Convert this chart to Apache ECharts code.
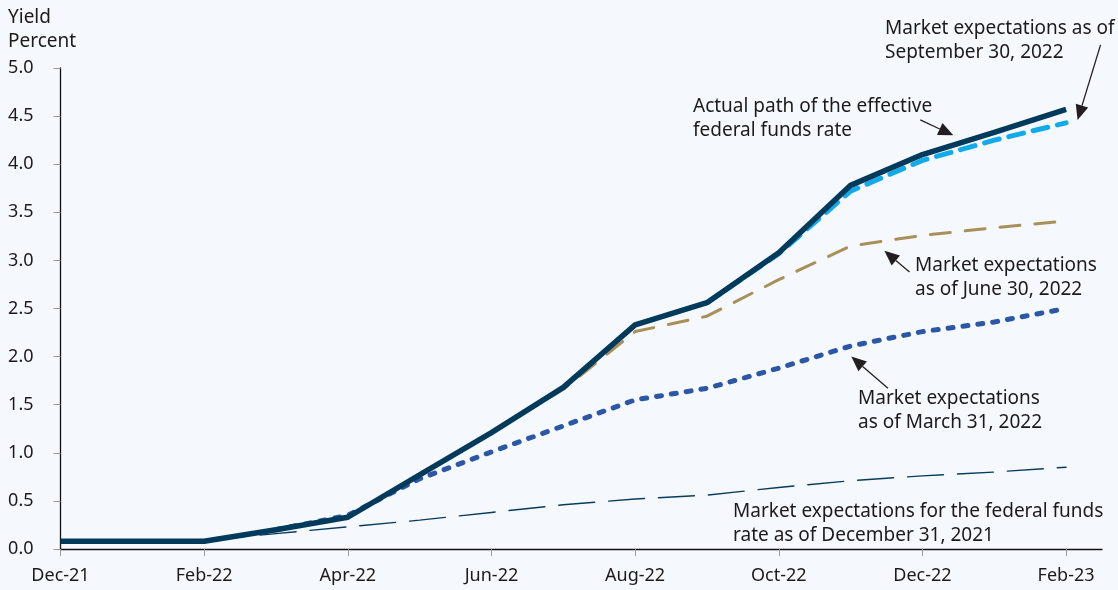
<!DOCTYPE html>
<html>
<head>
<meta charset="utf-8">
<script src="https://cdn.jsdelivr.net/npm/echarts@6/dist/echarts.min.js"></script>
<style>
html, body { margin: 0; padding: 0; background: #f5f9fd; }
#draw { width: 1118px; height: 590px; }
</style>
</head>
<body>
<div id="draw"></div>
<script>
// months on the x axis, Dec-21 .. Feb-23
var months = ['Dec-21', 'Jan-22', 'Feb-22', 'Mar-22', 'Apr-22', 'May-22', 'Jun-22', 'Jul-22',
	'Aug-22', 'Sep-22', 'Oct-22', 'Nov-22', 'Dec-22', 'Jan-23', 'Feb-23'];
var tickMonths = [0, 2, 4, 6, 8, 10, 12, 14];

// yields, percent
var actual = [0.08, 0.08, 0.08, 0.20, 0.33, 0.77, 1.21, 1.68, 2.33, 2.56, 3.08, 3.78, 4.10, 4.33, 4.57];
var expDec21 = [0.08, 0.08, 0.09, 0.16, 0.23, 0.30, 0.38, 0.46, 0.52, 0.56, 0.64, 0.71, 0.76, 0.80, 0.85];
var expMar22 = [null, null, null, 0.20, 0.35, 0.73, 1.01, 1.28, 1.55, 1.67, 1.88, 2.11, 2.26, 2.36, 2.50];
var expJun22 = [null, null, null, null, null, null, 1.21, 1.66, 2.26, 2.42, 2.80, 3.15, 3.26, 3.34, 3.41];
var expSep22 = [null, null, null, null, null, null, null, null, null, 2.56, 3.07, 3.72, 4.04, 4.25, 4.43];

var FONT = '"Noto Sans", sans-serif';
var TXT = '#1d1a1b';
var FS = 19;

function pairs(arr) {
	var out = [];
	arr.forEach(function(v, i) {
		if (v != null) out.push([i, v]);
	});
	return out;
}

function lineSeries(name, arr, color, width, dash, z) {
	return {
		name: name,
		type: 'line',
		data: pairs(arr),
		symbol: 'none',
		z: z,
		lineStyle: { color: color, width: width, type: dash, cap: dash === 'solid' ? 'butt' : 'round' },
		animation: false
	};
}

var myChart = echarts.init(document.getElementById('draw'));

var option = {
	backgroundColor: '#f5f9fd',
	animation: false,
	grid: { left: 60.5, right: 16, top: 68, bottom: 41 },
	xAxis: {
		type: 'value',
		min: 0,
		max: 14.5,
		splitLine: { show: false },
		axisLine: { lineStyle: { color: '#111', width: 1.3 } },
		axisTick: { customValues: tickMonths, length: 7, lineStyle: { color: '#999' } },
		axisLabel: {
			customValues: tickMonths,
			margin: 18,
			color: TXT,
			fontFamily: FONT,
			fontSize: FS - 1,
			formatter: function(v) { return months[v] || ''; }
		}
	},
	yAxis: {
		type: 'value',
		min: 0,
		max: 5,
		interval: 0.5,
		splitLine: { show: false },
		axisLine: { show: true, lineStyle: { color: '#111', width: 1.3 } },
		axisTick: { show: true, length: 7, lineStyle: { color: '#999' } },
		axisLabel: {
			margin: 27,
			color: TXT,
			fontFamily: FONT,
			fontSize: FS - 1,
			formatter: function(v) { return v.toFixed(1); }
		}
	},
	series: [
		lineSeries('Dec 31, 2021', expDec21, '#0a3a5c', 1.4, [36, 14], 1),
		lineSeries('Mar 31, 2022', expMar22, '#2b57a6', 5, [5, 10], 2),
		lineSeries('Jun 30, 2022', expJun22, '#a8905a', 3, [20, 15], 3),
		lineSeries('Sep 30, 2022', expSep22, '#12aae8', 5, [15, 10], 4),
		lineSeries('Actual', actual, '#013a5b', 5.5, 'solid', 5)
	]
};
myChart.setOption(option);

// annotations: texts and arrows (arrow ends given in chart units)
var notes = [
	{ text: 'Yield\nPercent', x: 8, y: 6 },
	{ text: 'Market expectations as of\nSeptember 30, 2022', x: 885, y: 17 },
	{ text: 'Actual path of the effective\nfederal funds rate', x: 693, y: 95 },
	{ text: 'Market expectations\nas of June 30, 2022', x: 915, y: 254 },
	{ text: 'Market expectations\nas of March 31, 2022', x: 858, y: 387 },
	{ text: 'Market expectations for the federal funds\nrate as of December 31, 2021', x: 733, y: 500 }
];
var arrows = [
	{ from: [11.97, 4.46], to: [12.43, 4.30] },
	{ from: [14.48, 5.24], to: [14.16, 4.46] },
	{ from: [11.82, 2.88], to: [11.47, 3.10] },
	{ from: [11.52, 1.67], to: [11.01, 2.00] }
];

var graphic = [];
notes.forEach(function(n) {
	graphic.push({
		type: 'text',
		x: n.x,
		y: n.y,
		style: { text: n.text, font: FS + 'px ' + FONT, fill: TXT, lineHeight: 24, verticalAlign: 'top' }
	});
});
arrows.forEach(function(a) {
	var p0 = myChart.convertToPixel({ gridIndex: 0 }, a.from);
	var p1 = myChart.convertToPixel({ gridIndex: 0 }, a.to);
	var dx = p1[0] - p0[0], dy = p1[1] - p0[1];
	var len = Math.sqrt(dx * dx + dy * dy);
	var ux = dx / len, uy = dy / len;
	var bx = p1[0] - ux * 15, by = p1[1] - uy * 15;
	graphic.push({
		type: 'line',
		shape: { x1: p0[0], y1: p0[1], x2: bx, y2: by },
		style: { stroke: '#231f20', lineWidth: 1.3 }
	});
	graphic.push({
		type: 'polygon',
		shape: { points: [[p1[0], p1[1]], [bx - uy * 6.5, by + ux * 6.5], [bx + uy * 6.5, by - ux * 6.5]] },
		style: { fill: '#231f20' }
	});
});
myChart.setOption({ graphic: graphic });
</script>
</body>
</html>
